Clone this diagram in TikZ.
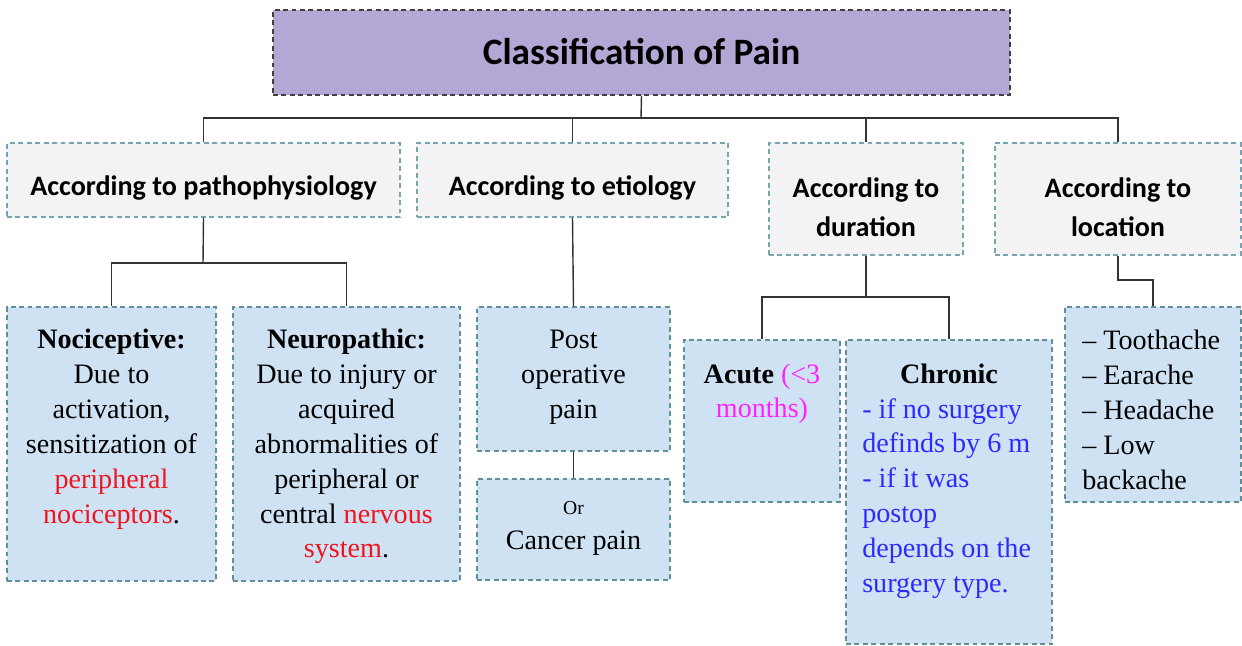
\documentclass[tikz,border=0pt]{standalone}
\usepackage{fontspec}
\setmainfont{Liberation Serif}
\newfontfamily\headfont{Carlito}
\usetikzlibrary{positioning,fit}

\definecolor{titlefill}{HTML}{B4A7D6}
\definecolor{catfill}{HTML}{F3F3F3}
\definecolor{leaffill}{HTML}{CFE2F3}
\definecolor{catline}{HTML}{76A5AF}
\definecolor{leafline}{HTML}{5F9098}
\definecolor{redtext}{HTML}{F0141E}
\definecolor{magtext}{HTML}{FF22FF}
\definecolor{bluetext}{HTML}{2B2BFF}

\begin{document}
\begin{tikzpicture}[x=0.025cm, y=-0.025cm,
  box/.style={draw, dash pattern=on 3.5pt off 2.5pt, line width=0.9pt, inner sep=0pt},
  titlebox/.style={box, draw=black!75, fill=titlefill},
  catbox/.style={box, draw=catline, fill=catfill},
  cattext/.style={inner sep=0pt, align=center, yshift=-6pt, font=\headfont\bfseries\fontsize{20}{27.5}\selectfont},
  leafbox/.style={box, draw=leafline, fill=leaffill},
  leaftext/.style={inner sep=0pt, align=center, font=\fontsize{20}{24.8}\selectfont},
  conn/.style={draw=black!80, line width=1pt}
]
  \useasboundingbox (0,0) rectangle (1242,645);

  % title and the four ways to classify
  \node[titlebox, fit={(273,10) (1010,95)}] (title) {};
  \node[font=\headfont\bfseries\fontsize{26.5}{30}\selectfont, yshift=1pt] (titleT) at (title.center) {Classification of Pain};

  \node[catbox, fit={(7,143) (400,217)}] (patho) {};
  \node[catbox, fit={(417,143) (728,217)}] (etio) {};
  \node[catbox, fit={(769,143) (963,255)}] (dur) {};
  \node[catbox, fit={(995,143) (1241,255)}] (loc) {};
  \node[cattext] (pathoT) at (patho.center) {According to pathophysiology};
  \node[cattext] (etioT) at (etio.center) {According to etiology};
  \node[cattext] (durT) at (dur.center) {According to\\duration};
  \node[cattext] (locT) at (loc.center) {According to\\location};

  % leaf boxes
  \node[leafbox, fit={(7,307) (216,581)}] (noci) {};
  \node[leafbox, fit={(233,307) (460,581)}] (neuro) {};
  \node[leafbox, fit={(477,307) (670,451)}] (post) {};
  \node[leafbox, fit={(477,479) (670,580)}] (cancer) {};
  \node[leafbox, fit={(684,340) (840,502)}] (acute) {};
  \node[leafbox, fit={(846,340) (1052,644)}] (chronic) {};
  \node[leafbox, fit={(1065,307) (1241,502)}] (list) {};

  \node[leaftext, below=16pt of noci.north] (nociT) {\textbf{Nociceptive:}\\Due to\\activation,\\sensitization of\\\textcolor{redtext}{peripheral}\\\textcolor{redtext}{nociceptors}.};
  \node[leaftext, below=16pt of neuro.north] (neuroT) {\textbf{Neuropathic:}\\Due to injury or\\acquired\\abnormalities of\\peripheral or\\central \textcolor{redtext}{nervous}\\\textcolor{redtext}{system}.};
  \node[leaftext, below=17pt of post.north] (postT) {Post\\operative\\pain};
  \node[leaftext, below=16.5pt of cancer.north] (cancerT) {{\fontsize{14}{20}\selectfont Or}\\Cancer pain};
  \node[leaftext, below=17pt of acute.north] (acuteT) {\textbf{Acute} \textcolor{magtext}{(<3}\\\textcolor{magtext}{months)}};
  \node[leaftext, below=17pt of chronic.north] (chronicT) {\textbf{Chronic}};
  \node[leaftext, anchor=north west, align=left, text=bluetext] (chronicL) at (862,398) {- if no surgery\\definds by 6 m\\- if it was\\postop\\depends on the\\surgery type.};
  \node[leaftext, anchor=north west, align=left] (listT) at (1082,330) {– Toothache\\– Earache\\– Headache\\– Low\\backache};

  % connectors
  \coordinate (bus) at (641,118);
  \coordinate (pathoSplit) at (203,263);
  \coordinate (durSplit) at (866,297);
  \coordinate (locBend) at (1118,280);
  \draw[conn] (title.south) -- (bus);
  \draw[conn] (patho.north) |- (bus) -| (loc.north);
  \draw[conn] (etio.north) -- (etio.north |- bus);
  \draw[conn] (dur.north) -- (dur.north |- bus);
  \draw[conn] (patho.south) -- (pathoSplit);
  \draw[conn] (noci.north) |- (pathoSplit) -| (neuro.north);
  \draw[conn] (etio.south) -- (post.north);
  \draw[conn] (post.south) -- (cancer.north);
  \draw[conn] (dur.south) -- (durSplit);
  \draw[conn] (acute.north) |- (durSplit) -| (chronic.north);
  \draw[conn] (loc.south) -- (locBend) -| (list.north);
\end{tikzpicture}
\end{document}
